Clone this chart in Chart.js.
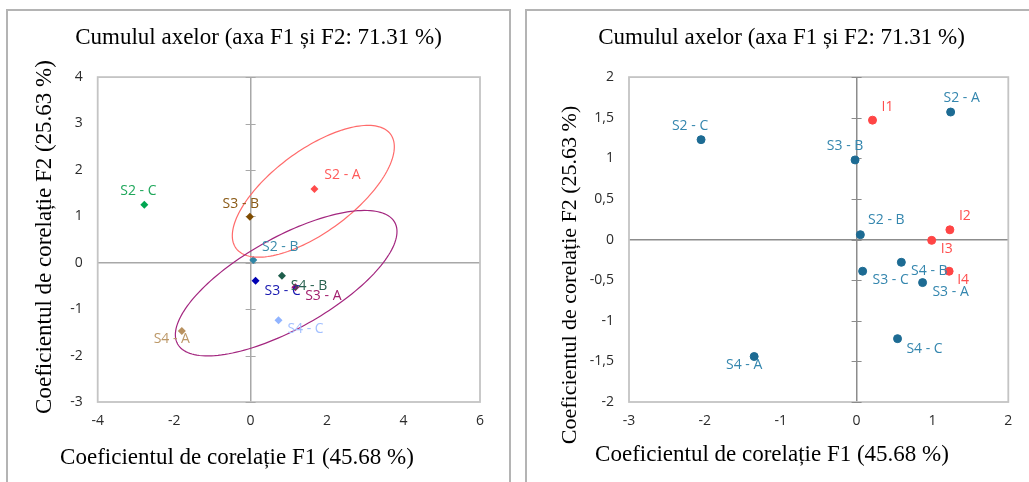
<!DOCTYPE html>
<html>
<head>
<meta charset="utf-8">
<title>Cumulul axelor F1 / F2</title>
<script src="https://cdn.jsdelivr.net/npm/chart.js@4.4.1/dist/chart.umd.min.js"></script>
<style>
    html, body { margin: 0; padding: 0; background: #fff; width: 1029px; height: 482px; overflow: hidden; }
    .panel { position: absolute; top: 9px; height: 473px; border: 2px solid #B4B4B4; border-bottom: none; overflow: hidden; }
    #panelLeft { left: 6px; width: 501px; }
    #panelRight { left: 525px; width: 504px; border-right: none; }
    canvas { position: absolute; left: 0; top: 0; }
</style>
</head>
<body>
<div class="panel" id="panelLeft"><canvas id="leftMap" width="501" height="471"></canvas></div>
<div class="panel" id="panelRight"><canvas id="rightMap" width="509" height="471"></canvas></div>

<script>
// texts
const chartTitle = 'Cumulul axelor (axa F1 și F2: 71.31 %)';
const xAxisTitle = 'Coeficientul de corelație F1 (45.68 %)';
const yAxisTitle = 'Coeficientul de corelație F2 (25.63 %)';

// observations
const samples = ['S2 - A', 'S2 - B', 'S2 - C', 'S3 - A', 'S3 - B', 'S3 - C', 'S4 - A', 'S4 - B', 'S4 - C'];

// left map (observations only)
const leftF1 = [1.67, 0.07, -2.78, 1.17, -0.02, 0.13, -1.80, 0.82, 0.73];
const leftF2 = [1.59, 0.06, 1.25, -0.53, 0.99, -0.39, -1.47, -0.28, -1.24];

// right map (observations + indicators)
const rightF1 = [1.24, 0.05, -2.05, 0.87, -0.02, 0.08, -1.35, 0.59, 0.54];
const rightF2 = [1.57, 0.06, 1.23, -0.53, 0.98, -0.39, -1.44, -0.28, -1.22];
const indicators = ['I1', 'I2', 'I3', 'I4'];
const indF1 = [0.21, 1.23, 0.99, 1.22];
const indF2 = [1.47, 0.12, -0.01, -0.39];

// axis ranges [min, max, step]
const leftXAxis = [-4, 6, 2];
const leftYAxis = [-3, 4, 1];
const rightXAxis = [-3, 2, 1];
const rightYAxis = [-2, 2, 0.5];

// group ellipses on the left map: centre, then the two semi-axes (F1/F2 units)
const ellipseCentres = [[1.64, 1.54], [0.93, -0.44]];
const ellipseAxisU = [[2.02, 1.23], [2.84, 1.31]];
const ellipseAxisV = [[-0.64, 0.71], [-0.58, 0.86]];

// ---- styles ----
const leftColors = ['#FF4B4B', '#2F86A6', '#00A651', '#A3156F', '#7F4C00', '#0000B3', '#B8915F', '#1E5D4B', '#91B4FF'];
const leftLabelColors = ['#FF5A5A', '#3A8BAB', '#1FA75B', '#A3206F', '#8A5A16', '#1818B0', '#BC9868', '#26604E', '#A3C0FF'];
const ellipseColors = ['#FF6B6B', '#A3267F'];
const blueDot = '#1D6B93', blueText = '#3486AE';
const redDot = '#FF4545', redText = '#FF4D4D';

// label nudges [dx, dy] in px from the point
const leftLabelPos = [[28, -14], [27, -13], [-6, -14], [28, 9], [-9, -13], [27, 10], [-10, 8], [27, 10], [27, 9]];
const rightLabelPos = [[11, -14], [26, -15], [-11, -14], [28, 9], [-10, -14], [28, 9], [-10, 9], [28, 9], [27, 10]];
const indLabelPos = [[15, -13], [15, -14], [15, 9], [14, 9]];

const tickFont = { family: 'Open Sans', size: 14 };
const tickColor = '#2B2B2B';
const serif = 'Liberation Serif';

function toPoints(xs, ys) {
    return xs.map((v, i) => ({ x: v, y: ys[i] }));
}

function zeroOnly(color) {
    return ctx => (ctx.tick && ctx.tick.value === 0) ? color : 'rgba(0,0,0,0)';
}

// frame, zero-axis ticks, ellipses, point labels and axis titles
const mapDecor = {
    id: 'mapDecor',
    beforeDatasetsDraw(chart, args, opts) {
        const { ctx, chartArea: a, scales: { x, y } } = chart;
        ctx.save();
        ctx.strokeStyle = '#C4C4C4';
        ctx.lineWidth = 1.8;
        ctx.strokeRect(a.left, a.top, a.right - a.left, a.bottom - a.top);

        const x0 = x.getPixelForValue(0);
        ctx.strokeStyle = opts.axisColor;
        ctx.lineWidth = 1;
        y.ticks.forEach(t => {
            const py = Math.round(y.getPixelForValue(t.value)) + 0.5;
            ctx.beginPath();
            ctx.moveTo(x0 - 5, py);
            ctx.lineTo(x0 + 5, py);
            ctx.stroke();
        });
        ctx.restore();
    },
    afterDatasetsDraw(chart, args, opts) {
        const { ctx, scales: { x, y } } = chart;
        ctx.save();

        (opts.ellipses || []).forEach(e => {
            ctx.beginPath();
            for (let i = 0; i <= 160; i++) {
                const t = i / 160 * Math.PI * 2;
                const px = x.getPixelForValue(e.c[0] + e.u[0] * Math.cos(t) + e.v[0] * Math.sin(t));
                const py = y.getPixelForValue(e.c[1] + e.u[1] * Math.cos(t) + e.v[1] * Math.sin(t));
                if (i === 0) ctx.moveTo(px, py); else ctx.lineTo(px, py);
            }
            ctx.closePath();
            ctx.strokeStyle = e.color;
            ctx.lineWidth = 1.2;
            ctx.stroke();
        });

        ctx.font = '14px "Open Sans"';
        ctx.textAlign = 'center';
        ctx.textBaseline = 'middle';
        chart.data.datasets.forEach((ds, di) => {
            const meta = chart.getDatasetMeta(di);
            meta.data.forEach((pt, i) => {
                const off = ds.labelOffsets[i];
                ctx.fillStyle = Array.isArray(ds.labelColor) ? ds.labelColor[i] : ds.labelColor;
                ctx.fillText(ds.pointLabels[i], pt.x + off[0], pt.y + off[1]);
            });
        });

        ctx.fillStyle = '#000';
        ctx.font = opts.xTitle.size + 'px "' + serif + '"';
        ctx.fillText(xAxisTitle, opts.xTitle.x, opts.xTitle.y);
        ctx.translate(opts.yTitle.x, opts.yTitle.y);
        ctx.rotate(-Math.PI / 2);
        ctx.font = opts.yTitle.size + 'px "' + serif + '"';
        ctx.fillText(yAxisTitle, 0, 0);
        ctx.restore();
    }
};

function buildOptions(xAxis, yAxis, side, yWidth, decor, comma) {
    const fmt = v => comma ? String(v).replace('.', ',') : String(v);
    return {
        responsive: false,
        animation: false,
        layout: { padding: { left: side, right: side, top: 0, bottom: 0 } },
        plugins: {
            legend: { display: false },
            tooltip: { enabled: false },
            title: {
                display: true,
                text: chartTitle,
                color: '#000',
                font: { family: serif, size: 23, weight: 'normal' },
                padding: { top: 13, bottom: 25.5 }
            },
            mapDecor: decor
        },
        scales: {
            x: {
                type: 'linear',
                min: xAxis[0], max: xAxis[1],
                ticks: { stepSize: xAxis[2], padding: 11, font: tickFont, color: tickColor, callback: fmt },
                grid: { color: zeroOnly(decor.axisColor), lineWidth: 1.5, drawTicks: false },
                border: { display: false },
                afterFit: s => { s.height = 80; }
            },
            y: {
                type: 'linear',
                min: yAxis[0], max: yAxis[1],
                ticks: { stepSize: yAxis[2], padding: 15, font: tickFont, color: tickColor, callback: fmt },
                grid: { color: zeroOnly(decor.axisColor), lineWidth: 1.5, drawTicks: false },
                border: { display: false },
                afterFit: s => { s.width = yWidth; }
            }
        }
    };
}

new Chart(document.getElementById('leftMap'), {
    type: 'scatter',
    data: {
        datasets: [{
            data: toPoints(leftF1, leftF2),
            pointStyle: 'rectRot',
            pointRadius: 4,
            pointBorderWidth: 0,
            backgroundColor: leftColors,
            borderColor: leftColors,
            pointLabels: samples,
            labelOffsets: leftLabelPos,
            labelColor: leftLabelColors
        }]
    },
    options: buildOptions(leftXAxis, leftYAxis, 29, 60.7, {
        axisColor: '#A8A8A8',
        ellipses: ellipseCentres.map((c, i) => ({ c: c, u: ellipseAxisU[i], v: ellipseAxisV[i], color: ellipseColors[i] })),
        xTitle: { x: 229, y: 447, size: 23 },
        yTitle: { x: 37, y: 226, size: 23 }
    }, false),
    plugins: [mapDecor]
});

new Chart(document.getElementById('rightMap'), {
    type: 'scatter',
    data: {
        datasets: [{
            data: toPoints(rightF1, rightF2),
            pointRadius: 4,
            pointBorderWidth: 1,
            backgroundColor: blueDot,
            borderColor: blueDot,
            pointLabels: samples,
            labelOffsets: rightLabelPos,
            labelColor: blueText
        }, {
            data: toPoints(indF1, indF2),
            pointRadius: 4,
            pointBorderWidth: 1,
            backgroundColor: redDot,
            borderColor: redDot,
            pointLabels: indicators,
            labelOffsets: indLabelPos,
            labelColor: redText
        }]
    },
    options: buildOptions(rightXAxis, rightYAxis, 27.7, 74.3, {
        axisColor: '#8C8C8C',
        ellipses: [],
        xTitle: { x: 245, y: 444, size: 23 },
        yTitle: { x: 43, y: 264, size: 22 }
    }, true),
    plugins: [mapDecor]
});
</script>
</body>
</html>
